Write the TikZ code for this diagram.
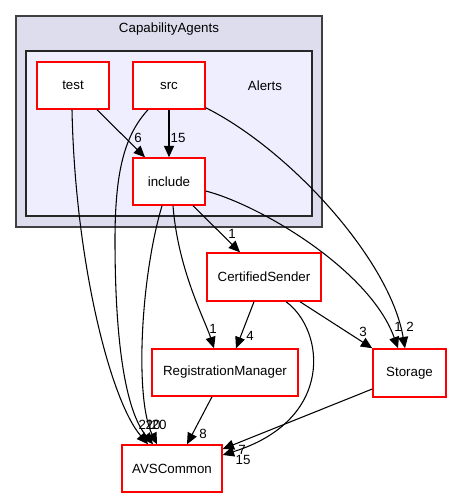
\documentclass[tikz,border=0pt]{standalone}
\usepackage{fontspec}
\setmainfont{Liberation Sans}
\usetikzlibrary{arrows.meta,calc}
\definecolor{outerfill}{HTML}{DDDDEE}
\definecolor{innerfill}{HTML}{EEEEFF}
\definecolor{clborder}{HTML}{404040}
\tikzset{
  dirbox/.style={draw=red, fill=white, line width=1.1pt, inner sep=0pt, font=\fontsize{10}{12}\selectfont},
  dep/.style={draw=black, line width=0.8pt, -{Triangle[length=8.5pt,width=7.5pt]}},
  lbl/.style={font=\fontsize{10}{12}\selectfont, inner sep=0pt},
}
\begin{document}
\begin{tikzpicture}[x=0.75pt,y=-0.75pt]
\useasboundingbox (0,0) rectangle (451,499);
% clusters
\draw[fill=outerfill, draw=clborder, line width=1.1pt] (16,16) rectangle (322,227);
\node[lbl] (capa) at (169,29) {CapabilityAgents};
\draw[fill=innerfill, draw=black!85, line width=1.1pt] (26,51) rectangle (312,216);
\node[lbl] (alerts) at (265,86) {Alerts};
% nodes
\node[dirbox, minimum width=54pt, minimum height=35.25pt] (test) at (73,85.5) {test};
\node[dirbox, minimum width=54pt, minimum height=35.25pt] (src) at (169,85.5) {src};
\node[dirbox, minimum width=54pt, minimum height=35.25pt] (include) at (169,181.5) {include};
\node[dirbox, minimum width=85.5pt, minimum height=36pt] (cs) at (264,277) {CertifiedSender};
\node[dirbox, minimum width=109.5pt, minimum height=35.25pt] (rm) at (225,372.5) {RegistrationManager};
\node[dirbox, minimum width=54.75pt, minimum height=36pt] (st) at (409.5,373) {Storage};
\node[dirbox, minimum width=75pt, minimum height=35.25pt] (avs) at (172,468.5) {AVSCommon};
% edges
\draw[dep] ($(test.south)+(24,0)$) -- ($(include.north)+(-24,0)$);
\draw[dep] (src.south) -- (include.north);
\draw[dep] ($(test.south)+(-1,0)$) .. controls (75,260) and (110,400) .. ($(avs.north)+(-24,0)$);
\draw[dep] ($(src.south)+(-21,0)$) .. controls (125,135) and (115,170) .. (115,240) .. controls (115,340) and (125,410) .. ($(avs.north)+(-19,0)$);
\draw[dep] ($(include.south)+(-7,0)$) .. controls (140,280) and (135,400) .. ($(avs.north)+(-15,0)$);
\draw[dep] ($(include.south)+(4,0)$) .. controls (178,270) and (205,320) .. ($(rm.north)+(-11,0)$);
\draw[dep] ($(include.south)+(24,0)$) -- ($(cs.north)+(-24,0)$);
\draw[dep] ($(src.south east)+(0,-2)$) .. controls (290,150) and (390,260) .. ($(st.north)+(-4.5,0)$);
\draw[dep] ($(include.east)+(0,9.5)$) .. controls (260,205) and (370,270) .. ($(st.north)+(-11.5,0)$);
\draw[dep] ($(cs.south)+(-10,0)$) -- ($(rm.north)+(11,0)$);
\draw[dep] ($(cs.south)+(36,0)$) -- (st.north west);
\draw[dep] ($(cs.south)+(22,0)$) .. controls (325,330) and (335,420) .. ($(avs.east)+(0,-13.5)$);
\draw[dep] ($(rm.south)+(-13,0)$) -- ($(avs.north)+(15,0)$);
\draw[dep] ($(st.west)+(0,16)$) -- ($(avs.east)+(0,-19.5)$);
% labels
\node[lbl] (l6) at (138,138) {6};
\node[lbl] (l15a) at (178,138) {15};
\node[lbl] (l1a) at (232,234) {1};
\node[lbl] (l1b) at (213,329) {1};
\node[lbl] (l4) at (250,336) {4};
\node[lbl] (l3) at (363,332) {3};
\node[lbl] (l1c) at (398,327) {1};
\node[lbl] (l2) at (410,327) {2};
\node[lbl] (l8) at (203,434) {8};
\node[lbl] (l7) at (242,450) {7};
\node[lbl] (l15b) at (243,460) {15};
\node[lbl] (l21) at (146,425) {21};
\node[lbl] (l20a) at (153,425) {20};
\node[lbl] (l20b) at (159,425) {20};
\end{tikzpicture}
\end{document}
